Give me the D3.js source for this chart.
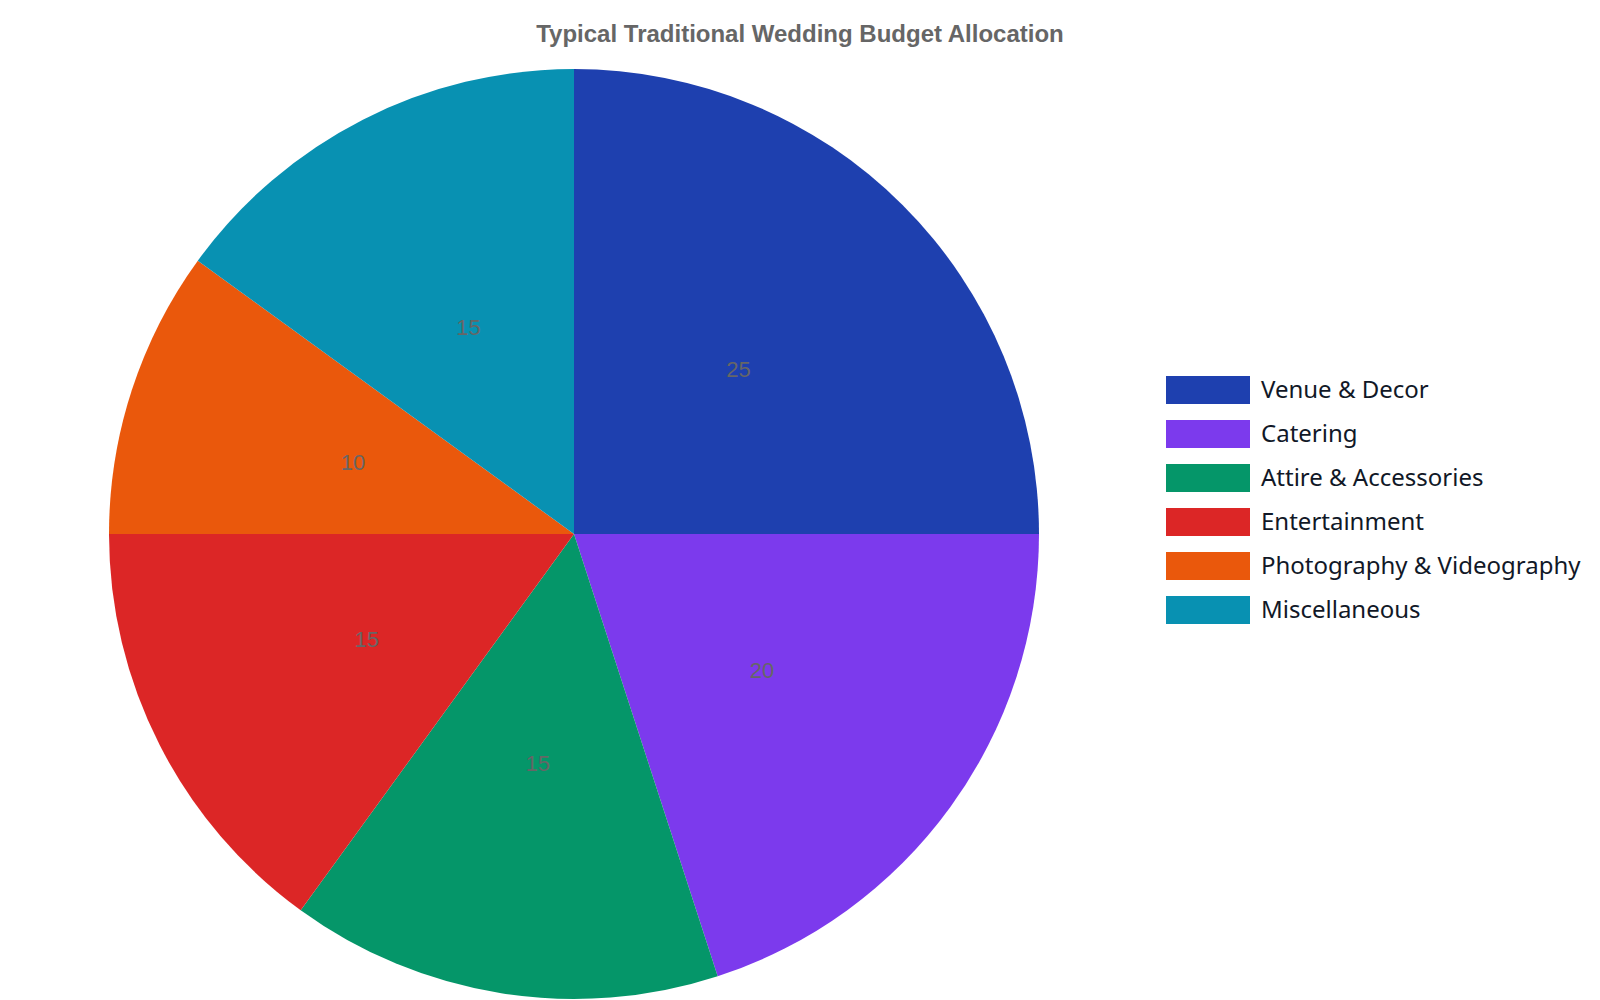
<!DOCTYPE html>
<html>
<head>
<meta charset="utf-8">
<script src="https://cdn.jsdelivr.net/npm/d3@7"></script>
<style>
  body { margin: 0; background: #fff; }
</style>
</head>
<body>
<script>
// chart data
const categories = ['Venue & Decor', 'Catering', 'Attire & Accessories', 'Entertainment', 'Photography & Videography', 'Miscellaneous'];
const values = [25, 20, 15, 15, 10, 15];
const colors = ['#1e40af', '#7c3aed', '#059669', '#dc2626', '#ea580c', '#0891b2'];

const width = 1600, height = 1000;
const cx = 574, cy = 534, radius = 465;

const data = categories.map((c, i) => ({ name: c, value: values[i] }));

let svg = d3.select('body').append('svg')
            .attr('width', width).attr('height', height);

svg.append('text')
  .attr('x', 800)
  .attr('y', 42)
  .attr('text-anchor', 'middle')
  .style('font-family', '"Liberation Sans", Arial, sans-serif')
  .style('font-weight', 'bold')
  .style('font-size', '24px')
  .style('fill', '#666')
  .text('Typical Traditional Wedding Budget Allocation');

const color = d3.scaleOrdinal().domain(categories).range(colors);

const pie = d3.pie().value(d => d.value).sort(null);
const arc = d3.arc().innerRadius(0).outerRadius(radius);
const labelArc = d3.arc().innerRadius(radius * 0.5).outerRadius(radius * 0.5);

const g = svg.append('g').attr('transform', `translate(${cx}, ${cy})`);

const slices = g.selectAll('g.slice')
  .data(pie(data))
  .enter()
  .append('g')
  .attr('class', 'slice');

slices.append('path')
  .attr('d', arc)
  .style('fill', d => color(d.data.name));

slices.append('text')
  .attr('transform', d => `translate(${labelArc.centroid(d)})`)
  .attr('text-anchor', 'middle')
  .attr('dy', '0.35em')
  .style('font-family', '"Liberation Sans", Arial, sans-serif')
  .style('font-size', '22px')
  .style('fill', '#666')
  .text(d => d.data.value);

// legend
const legend = svg.append('g').attr('transform', 'translate(1166, 376)');

const rows = legend.selectAll('g')
  .data(categories)
  .enter()
  .append('g')
  .attr('transform', (d, i) => `translate(0, ${i * 44})`);

rows.append('rect')
  .attr('width', 84)
  .attr('height', 28)
  .style('fill', d => color(d));

rows.append('text')
  .attr('x', 95)
  .attr('y', 14)
  .attr('dy', '0.35em')
  .style('font-family', '"Noto Sans", sans-serif')
  .style('font-size', '24px')
  .style('fill', '#111827')
  .text(d => d);
</script>
</body>
</html>
